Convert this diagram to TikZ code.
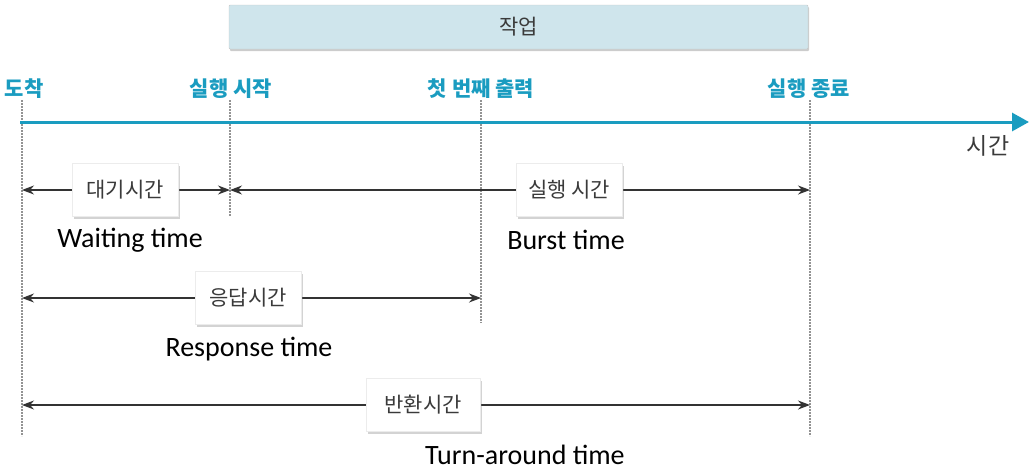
\documentclass[tikz,border=0pt]{standalone}
\usepackage{fontspec}
\setmainfont{Carlito}
\newfontfamily\kr{Noto Sans CJK KR}
\usetikzlibrary{arrows.meta,shadows}
\definecolor{teal1}{HTML}{1A9CC0}
\definecolor{boxblue}{HTML}{CFE5EC}
\definecolor{txtgray}{HTML}{3A3A3A}
\tikzset{
  tick/.style={draw=gray!85, line width=2.2pt, dash pattern=on 1.6pt off 1.4pt},
  span/.style={draw=black!80, line width=1.2pt, {Stealth[length=12pt,width=9pt]}-{Stealth[length=12pt,width=9pt]}},
  lbox/.style={fill=white, draw=gray!15, minimum height=53pt, minimum width=106pt, inner xsep=8pt, font=\kr\fontsize{21}{24}\selectfont, text=txtgray,
    drop shadow={shadow xshift=1.5pt, shadow yshift=-2.5pt, opacity=0.35, fill=gray}},
  evt/.style={text=teal1, font=\kr\bfseries\fontsize{21}{24}\selectfont},
  eng/.style={text=black, inner sep=0pt, font=\fontsize{28}{32}\selectfont}
}
\begin{document}
\begin{tikzpicture}[x=1pt,y=-1pt]
\useasboundingbox (0,0) rectangle (1031,472);
% job box
\node[fill=boxblue, draw=gray!45, minimum width=579pt, minimum height=44pt, rounded corners=1pt,
  drop shadow={shadow xshift=1pt, shadow yshift=-2pt, opacity=0.4, fill=gray},
  font=\kr\fontsize{21}{24}\selectfont, text=txtgray] (job) at (518.5,27) {작업};
% event coordinates
\coordinate (a0) at (22,100);   \coordinate (a1) at (22,436);
\coordinate (s0) at (230,100);  \coordinate (s1) at (230,216);
\coordinate (f0) at (481,100);  \coordinate (f1) at (481,323);
\coordinate (e0) at (810,100);  \coordinate (e1) at (810,436);
\draw[tick] (a0) -- (a1);
\draw[tick] (s0) -- (s1);
\draw[tick] (f0) -- (f1);
\draw[tick] (e0) -- (e1);
% timeline
\coordinate (t0) at (20,122);
\coordinate (t1) at (1029,122);
\draw[teal1, line width=3pt, -{Triangle[length=17pt,width=18pt]}] (t0) -- (t1);
\node[evt] (arr) at (24,89) {도착};
\node[evt] (start) at (231,89) {실행 시작};
\node[evt] (first) at (481,89) {첫 번째 출력};
\node[evt] (end) at (809,89) {실행 종료};
\node[font=\kr\fontsize{23}{26}\selectfont, text=txtgray] (time) at (988,146) {시간};
% spans
\coordinate (w0) at (22,190);  \coordinate (w1) at (230,190);
\coordinate (b0) at (230,190); \coordinate (b1) at (810,190);
\coordinate (r0) at (22,298);  \coordinate (r1) at (481,298);
\coordinate (u0) at (22,405);  \coordinate (u1) at (810,405);
\draw[span] (w0) -- (w1);
\draw[span] (b0) -- (b1);
\draw[span] (r0) -- (r1);
\draw[span] (u0) -- (u1);
\node[lbox] (wbox) at (125,190) {대기시간};
\node[lbox] (bbox) at (569,190) {실행 시간};
\node[lbox] (rbox) at (248,298) {응답시간};
\node[lbox, minimum width=114pt] (ubox) at (423,405) {반환시간};
\node[eng] (wt) at (130,240) {Waiting time};
\node[eng] (bt) at (566,240) {Burst time};
\node[eng] (rt) at (249,349) {Response time};
\node[eng] (tt) at (525,455) {Turn-around time};
\end{tikzpicture}
\end{document}
